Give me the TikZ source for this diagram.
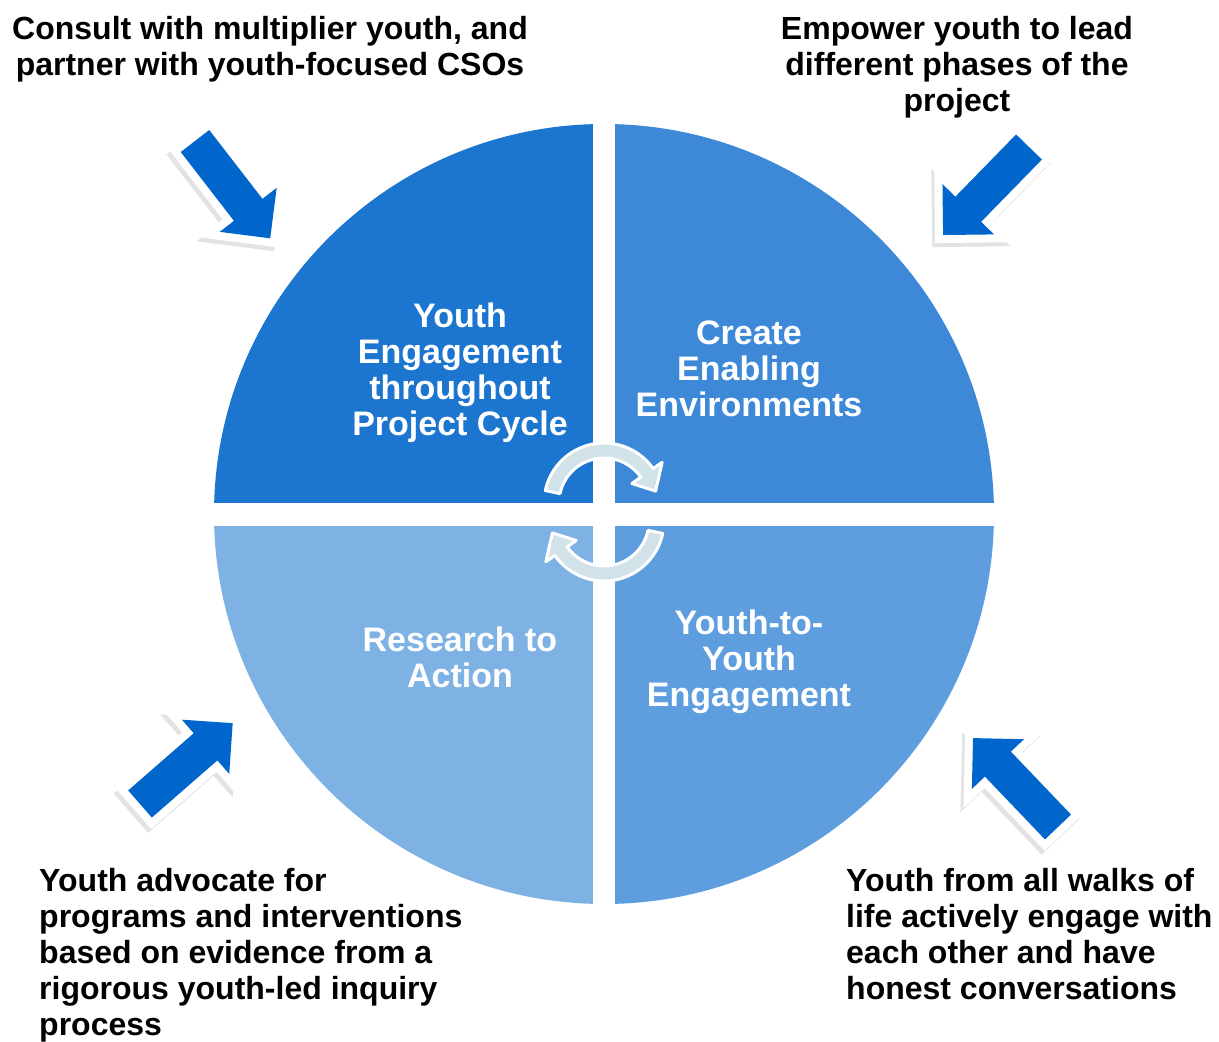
\documentclass[tikz,border=0pt]{standalone}
\usepackage{fontspec}
\setmainfont{Liberation Sans}
\usetikzlibrary{calc}
\definecolor{qTL}{RGB}{28,117,207}
\definecolor{qTR}{RGB}{61,137,216}
\definecolor{qBR}{RGB}{94,158,222}
\definecolor{qBL}{RGB}{127,178,228}
\definecolor{arrowblue}{RGB}{0,102,204}
\definecolor{cyclefill}{RGB}{210,226,233}
\tikzset{
  outertext/.style={font=\bfseries\fontsize{32}{36}\selectfont, inner sep=0pt, text=black},
  innertext/.style={font=\bfseries\fontsize{34}{36}\selectfont, inner sep=0pt, text=white, align=center, anchor=north},
  cyclearrow/.style={fill=cyclefill, draw=white, line width=3pt, line join=round},
  barrow/.pic={
    \path[draw=black!50, line width=16pt, line join=miter, opacity=0.22,
          transform canvas={xshift=-3pt,yshift=-4pt}]
      (0,-18) -- (87,-18) -- (87,-36) -- (123,0) -- (87,36) -- (87,18) -- (0,18) -- cycle;
    \path[draw=white, fill=white, line width=16pt, line join=miter]
      (0,-18) -- (87,-18) -- (87,-36) -- (123,0) -- (87,36) -- (87,18) -- (0,18) -- cycle;
    \path[fill=arrowblue]
      (0,-18) -- (87,-18) -- (87,-36) -- (123,0) -- (87,36) -- (87,18) -- (0,18) -- cycle;
  }
}
\begin{document}
\begin{tikzpicture}[x=1pt,y=-1pt]
\useasboundingbox[fill=white] (0,0) rectangle (1219,1042);
\coordinate (c) at (604,514);
% quadrants
\begin{scope}
  \clip (c) circle[radius=390];
  \fill[qTL] (0,0) rectangle (593,503);
  \fill[qTR] (615,0) rectangle (1219,503);
  \fill[qBR] (615,526) rectangle (1219,1042);
  \fill[qBL] (0,526) rectangle (593,1042);
\end{scope}
% central cycle arrows
\begin{scope}[shift={(604,503)}]
  \path[cyclearrow] (-168:60) arc[start angle=-168, end angle=-35, radius=60]
    -- (-35:71) -- (-13:53) -- (-35:34) -- (-35:45)
    arc[start angle=-35, end angle=-168, radius=45] -- cycle;
\end{scope}
\begin{scope}[shift={(604,521)}, rotate=180]
  \path[cyclearrow] (-168:60) arc[start angle=-168, end angle=-35, radius=60]
    -- (-35:71) -- (-13:53) -- (-35:34) -- (-35:45)
    arc[start angle=-35, end angle=-168, radius=45] -- cycle;
\end{scope}
% quadrant labels
\node[innertext] (tl) at (460,303) {Youth\\Engagement\\throughout\\Project Cycle};
\node[innertext] (tr) at (749,321) {Create\\Enabling\\Environments};
\node[innertext] (br) at (749,610) {Youth-to-\\Youth\\Engagement};
\node[innertext] (bl) at (460,627) {Research to\\Action};
% block arrows
\pic[rotate=-52.3] at (195,141) {barrow};
\pic[rotate=-134.3] at (1029,147) {barrow};
\pic[rotate=41.1] at (140,804) {barrow};
\pic[rotate=133.7] at (1058,827) {barrow};
% outer texts
\node[outertext, align=center, anchor=north] (t1) at (270,16) {Consult with multiplier youth, and\\partner with youth-focused CSOs};
\node[outertext, align=center, anchor=north] (t2) at (957,16) {Empower youth to lead\\different phases of the\\project};
\node[outertext, align=left, anchor=north west] (t3) at (39,868) {Youth advocate for\\programs and interventions\\based on evidence from a\\rigorous youth-led inquiry\\process};
\node[outertext, align=left, anchor=north west] (t4) at (846,868) {Youth from all walks of\\life actively engage with\\each other and have\\honest conversations};
\end{tikzpicture}
\end{document}
